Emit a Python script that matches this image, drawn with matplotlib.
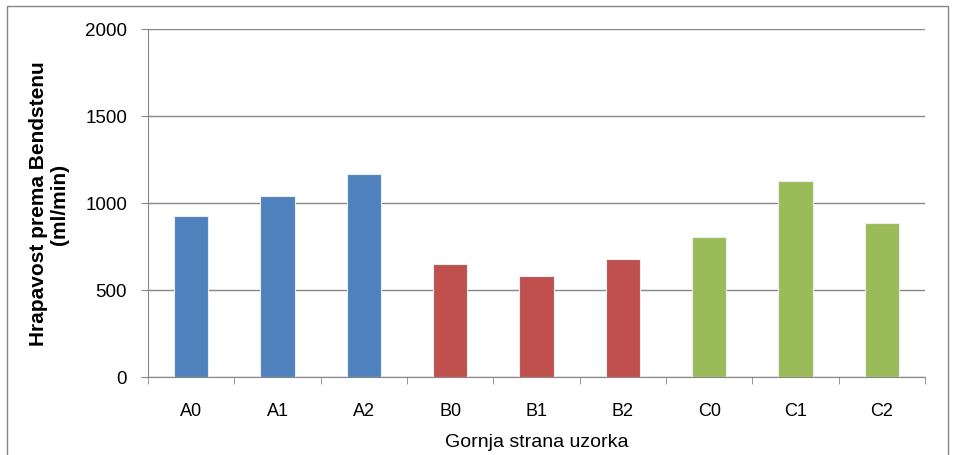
import matplotlib.pyplot as plt
from matplotlib.patches import Rectangle

categories = ['A0', 'A1', 'A2', 'B0', 'B1', 'B2', 'C0', 'C1', 'C2']
values = [923, 1042, 1168, 648, 579, 678, 805, 1128, 883]
colors = ['#4F81BD'] * 3 + ['#C0504D'] * 3 + ['#9BBB59'] * 3
y_ticks = [0, 500, 1000, 1500, 2000]

plt.rcParams['font.family'] = ['Liberation Sans', 'DejaVu Sans']

fig = plt.figure(figsize=(9.55, 4.56), dpi=100)
ax = fig.add_axes([148 / 955, 1 - 378 / 456, (925 - 148) / 955, 348 / 456])

# outer chart border
fig.patches.append(Rectangle((7 / 955, -0.05), (948 - 7) / 955, 1.05 - 7 / 456,
                             transform=fig.transFigure, fill=False,
                             edgecolor='#868686', linewidth=1))

x = range(len(categories))
ax.bar(x, values, width=0.4, color=colors, edgecolor='#E8EEF6', linewidth=0.8, zorder=3)

ax.set_xlim(-0.5, len(categories) - 0.5)
ax.set_ylim(0, 2000)
ax.set_yticks(y_ticks)
ax.set_yticklabels([str(v) for v in y_ticks], fontsize=13.5)
ax.set_xticks(list(x))
ax.set_xticklabels(categories, fontsize=13)
ax.set_xticks([i + 0.5 for i in range(-1, len(categories))], minor=True)
ax.tick_params(axis='x', which='major', length=0, pad=18)
ax.tick_params(axis='x', which='minor', length=5, color='#868686', direction='out')
ax.tick_params(axis='y', length=5, color='#868686', direction='out', pad=10)

ax.grid(axis='y', color='#868686', linewidth=1, zorder=0)
for side in ['top', 'right']:
    ax.spines[side].set_visible(False)
for side in ['left', 'bottom']:
    ax.spines[side].set_color('#868686')

ax.set_ylabel('Hrapavost prema Bendstenu\n(ml/min)', fontsize=15, fontweight='bold',
              linespacing=1.1, labelpad=12)
ax.set_xlabel('Gornja strana uzorka', fontsize=14, labelpad=10)

fig.savefig('out.png', dpi=100)
